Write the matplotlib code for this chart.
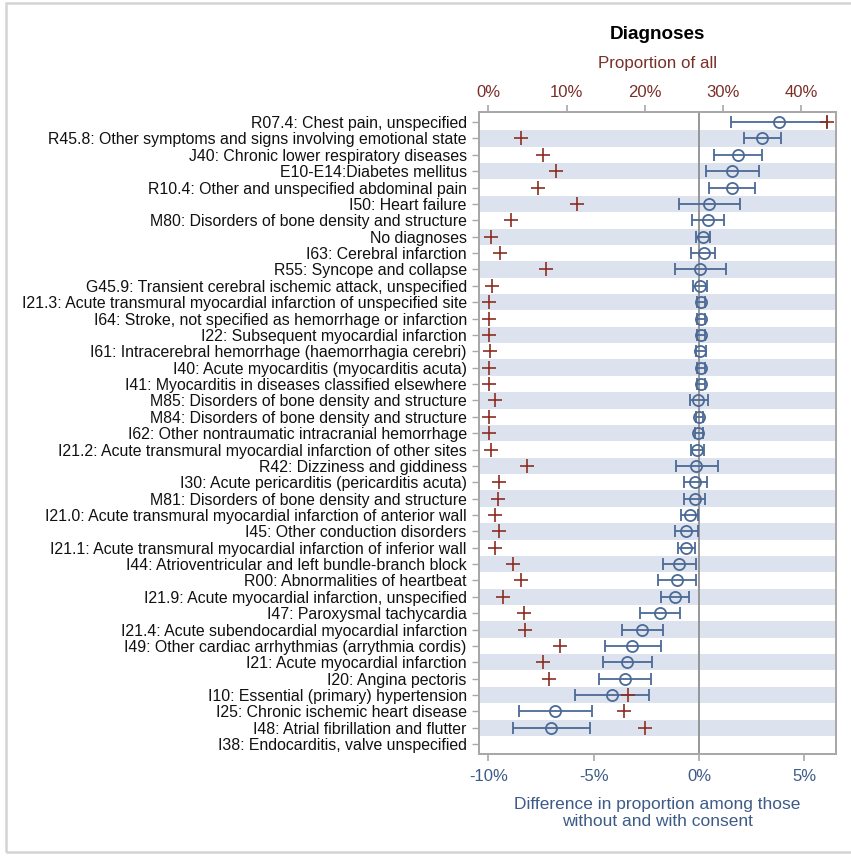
import numpy as np
import matplotlib.pyplot as plt
from matplotlib.patches import Rectangle
from matplotlib.ticker import FuncFormatter

plt.rcParams['font.family'] = ['Liberation Sans', 'DejaVu Sans']

labels = [
    "R07.4: Chest pain, unspecified",
    "R45.8: Other symptoms and signs involving emotional state",
    "J40: Chronic lower respiratory diseases",
    "E10-E14:Diabetes mellitus",
    "R10.4: Other and unspecified abdominal pain",
    "I50: Heart failure",
    "M80: Disorders of bone density and structure",
    "No diagnoses",
    "I63: Cerebral infarction",
    "R55: Syncope and collapse",
    "G45.9: Transient cerebral ischemic attack, unspecified",
    "I21.3: Acute transmural myocardial infarction of unspecified site",
    "I64: Stroke, not specified as hemorrhage or infarction",
    "I22: Subsequent myocardial infarction",
    "I61: Intracerebral hemorrhage (haemorrhagia cerebri)",
    "I40: Acute myocarditis (myocarditis acuta)",
    "I41: Myocarditis in diseases classified elsewhere",
    "M85: Disorders of bone density and structure",
    "M84: Disorders of bone density and structure",
    "I62: Other nontraumatic intracranial hemorrhage",
    "I21.2: Acute transmural myocardial infarction of other sites",
    "R42: Dizziness and giddiness",
    "I30: Acute pericarditis (pericarditis acuta)",
    "M81: Disorders of bone density and structure",
    "I21.0: Acute transmural myocardial infarction of anterior wall",
    "I45: Other conduction disorders",
    "I21.1: Acute transmural myocardial infarction of inferior wall",
    "I44: Atrioventricular and left bundle-branch block",
    "R00: Abnormalities of heartbeat",
    "I21.9: Acute myocardial infarction, unspecified",
    "I47: Paroxysmal tachycardia",
    "I21.4: Acute subendocardial myocardial infarction",
    "I49: Other cardiac arrhythmias (arrythmia cordis)",
    "I21: Acute myocardial infarction",
    "I20: Angina pectoris",
    "I10: Essential (primary) hypertension",
    "I25: Chronic ischemic heart disease",
    "I48: Atrial fibrillation and flutter",
    "I38: Endocarditis, valve unspecified",
]

# proportion of all patients with the diagnosis (%)
prop = [43.3, 4.2, 7.0, 8.7, 6.3, 11.3, 2.9, 0.4, 1.5, 7.4,
        0.5, 0.13, 0.13, 0.13, 0.2, 0.13, 0.13, 0.8, 0.13, 0.13,
        0.35, 5.0, 1.4, 1.2, 0.9, 1.4, 0.9, 3.1, 4.2, 1.9,
        4.6, 4.7, 9.2, 7.0, 7.8, 17.8, 17.3, 20.0, np.nan]

# difference without vs with consent (%), with 95% limits
diff = [3.81, 3.0, 1.83, 1.57, 1.57, 0.46, 0.41, 0.2, 0.22, 0.03,
        0.03, 0.09, 0.09, 0.09, 0.07, 0.09, 0.09, -0.03, 0.0, -0.03,
        -0.1, -0.13, -0.18, -0.21, -0.44, -0.6, -0.6, -0.93, -1.04, -1.16,
        -1.87, -2.69, -3.17, -3.42, -3.53, -4.13, -6.82, -7.02, np.nan]
diff_lo = [1.52, 2.12, 0.73, 0.31, 0.46, -0.97, -0.33, -0.13, -0.38, -1.12,
           -0.29, -0.1, -0.1, -0.1, -0.16, -0.1, -0.1, -0.44, -0.16, -0.19,
           -0.36, -1.08, -0.7, -0.73, -0.86, -1.12, -1.01, -1.71, -1.96, -1.79,
           -2.79, -3.65, -4.48, -4.56, -4.75, -5.87, -8.53, -8.83, np.nan]
diff_hi = [6.1, 3.91, 2.99, 2.83, 2.66, 1.93, 1.2, 0.54, 0.74, 1.28,
           0.38, 0.27, 0.27, 0.27, 0.31, 0.27, 0.27, 0.43, 0.19, 0.19,
           0.22, 0.9, 0.38, 0.27, -0.05, -0.05, -0.18, -0.13, -0.16, -0.48,
           -0.89, -1.71, -1.82, -2.23, -2.3, -2.39, -5.08, -5.19, np.nan]

RED = "#8b2e22"
RED_TXT = "#7a2f28"
BLUE = "#4b6a96"
BLUE_TXT = "#3e5b88"
GRID = "#a8a8a8"
STRIPE = "#dde3ee"

n = len(labels)
y = np.arange(n)
diff = np.array(diff)
err = np.vstack([diff - np.array(diff_lo), np.array(diff_hi) - diff])

fig = plt.figure(figsize=(8.51, 8.56), dpi=100)
ax = fig.add_axes([0.5633, 0.1192, 0.4187, 0.7496])

for i in range(1, n, 2):
    ax.axhspan(i - 0.5, i + 0.5, color=STRIPE, lw=0, zorder=0)
ax.axvline(0, color="#8f8f8f", lw=1.3, zorder=1)

ax.errorbar(diff, y, xerr=err, fmt="o", ms=8, mfc="none", mec=BLUE,
            mew=1.3, ecolor=BLUE, elinewidth=1.3, capsize=4.5, capthick=1.3,
            zorder=3)

ax.set_ylim(n - 1 + 0.6, -0.6)
ax.set_xlim(-10.43, 6.49)
ax.set_yticks(y)
ax.set_yticklabels(labels, fontsize=11.4)
ax.set_xticks([-10, -5, 0, 5])
ax.xaxis.set_major_formatter(FuncFormatter(lambda v, p: f"{v:.0f}%"))
ax.tick_params(axis="x", colors=GRID, labelcolor=BLUE_TXT, labelsize=12,
               length=5, width=1.2, pad=6)
ax.tick_params(axis="y", colors=GRID, labelcolor="#111111", length=5,
               width=1.0, pad=4)
ax.set_xlabel("Difference in proportion among those\nwithout and with consent",
              color=BLUE_TXT, fontsize=12.5, labelpad=9)

ax2 = ax.twiny()
ax2.plot(prop, y, "+", color=RED, ms=9.5, mew=1.2, zorder=4)
ax2.set_xlim(-1.15, 44.42)
ax2.set_xticks([0, 10, 20, 30, 40])
ax2.xaxis.set_major_formatter(FuncFormatter(lambda v, p: f"{v:.0f}%"))
ax2.tick_params(axis="x", colors=GRID, labelcolor=RED_TXT, labelsize=12,
                length=5, width=1.2, pad=4)
ax2.set_ylim(n - 1 + 0.6, -0.6)

for a in (ax, ax2):
    for s in a.spines.values():
        s.set_color(GRID)
        s.set_linewidth(1.3)

fig.text(0.7726, 0.960, "Diagnoses", ha="center", va="center",
         fontsize=13.6, fontweight="bold")
fig.text(0.7726, 0.926, "Proportion of all", ha="center", va="center",
         fontsize=12.2, color=RED_TXT)

# thin frame around the whole figure
fig.patches.append(Rectangle((0.0075, 0.0047), 1.0, 0.9918,
                             transform=fig.transFigure, fill=False,
                             ec="#d4d4d4", lw=1.8))

fig.savefig("out.png", dpi=100)
